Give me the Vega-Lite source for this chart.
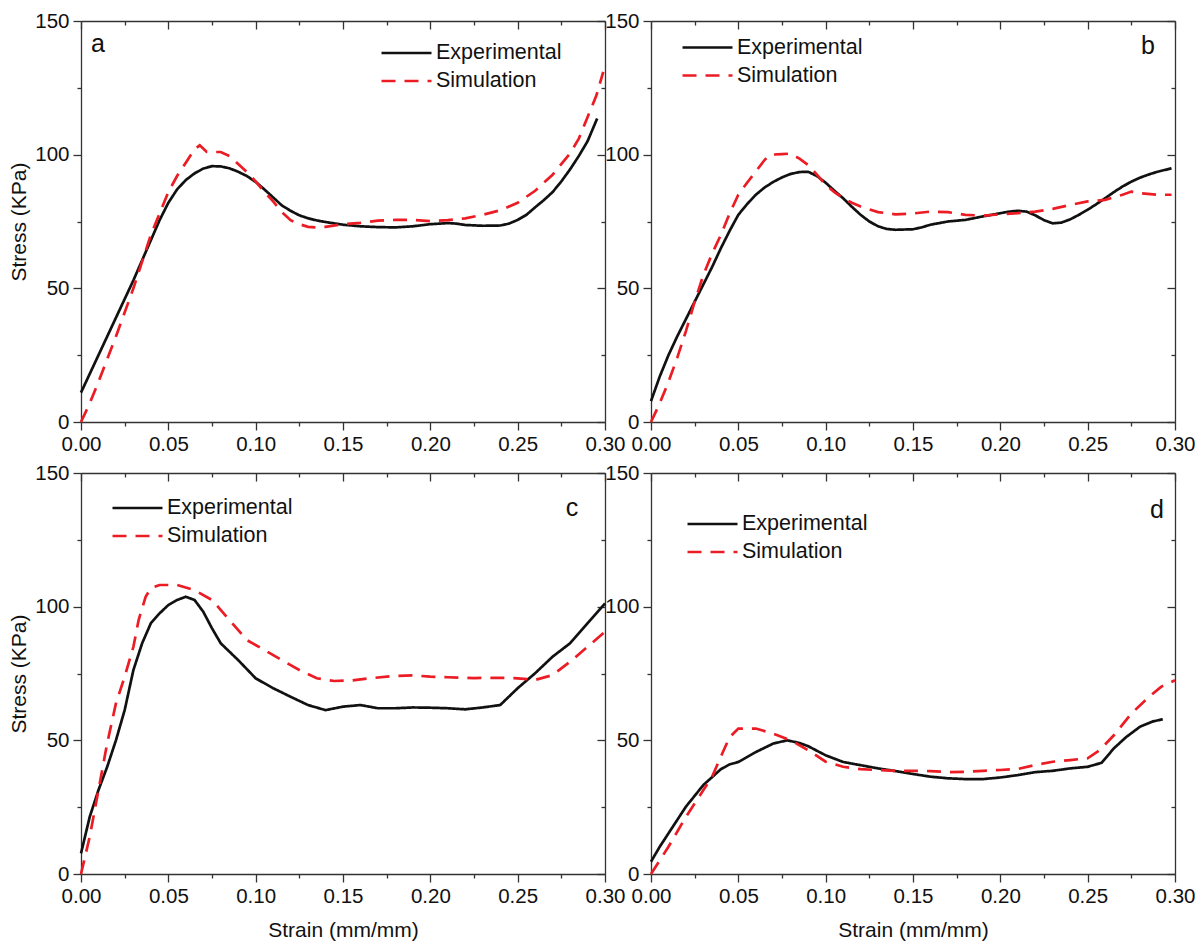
{
  "$schema": "https://vega.github.io/schema/vega-lite/v6.json",
  "background": "white",
  "padding": {"left": 8, "top": 11, "right": 5, "bottom": 5},
  "datasets": {
    "curves": [
      {"panel": "a", "series": "Experimental", "strain": 0, "stress": 11},
      {"panel": "a", "series": "Experimental", "strain": 0.005, "stress": 18},
      {"panel": "a", "series": "Experimental", "strain": 0.01, "stress": 25},
      {"panel": "a", "series": "Experimental", "strain": 0.015, "stress": 32},
      {"panel": "a", "series": "Experimental", "strain": 0.02, "stress": 39},
      {"panel": "a", "series": "Experimental", "strain": 0.025, "stress": 46},
      {"panel": "a", "series": "Experimental", "strain": 0.03, "stress": 53},
      {"panel": "a", "series": "Experimental", "strain": 0.035, "stress": 60.5},
      {"panel": "a", "series": "Experimental", "strain": 0.04, "stress": 68},
      {"panel": "a", "series": "Experimental", "strain": 0.045, "stress": 75.5},
      {"panel": "a", "series": "Experimental", "strain": 0.05, "stress": 82},
      {"panel": "a", "series": "Experimental", "strain": 0.055, "stress": 87},
      {"panel": "a", "series": "Experimental", "strain": 0.06, "stress": 90.5},
      {"panel": "a", "series": "Experimental", "strain": 0.065, "stress": 93},
      {"panel": "a", "series": "Experimental", "strain": 0.07, "stress": 94.8},
      {"panel": "a", "series": "Experimental", "strain": 0.075, "stress": 95.7},
      {"panel": "a", "series": "Experimental", "strain": 0.08, "stress": 95.6},
      {"panel": "a", "series": "Experimental", "strain": 0.085, "stress": 94.9},
      {"panel": "a", "series": "Experimental", "strain": 0.09, "stress": 93.6},
      {"panel": "a", "series": "Experimental", "strain": 0.095, "stress": 92},
      {"panel": "a", "series": "Experimental", "strain": 0.1, "stress": 89.8},
      {"panel": "a", "series": "Experimental", "strain": 0.105, "stress": 87},
      {"panel": "a", "series": "Experimental", "strain": 0.11, "stress": 84},
      {"panel": "a", "series": "Experimental", "strain": 0.115, "stress": 81},
      {"panel": "a", "series": "Experimental", "strain": 0.12, "stress": 79},
      {"panel": "a", "series": "Experimental", "strain": 0.125, "stress": 77.3},
      {"panel": "a", "series": "Experimental", "strain": 0.13, "stress": 76.2},
      {"panel": "a", "series": "Experimental", "strain": 0.135, "stress": 75.4},
      {"panel": "a", "series": "Experimental", "strain": 0.14, "stress": 74.8},
      {"panel": "a", "series": "Experimental", "strain": 0.15, "stress": 73.8},
      {"panel": "a", "series": "Experimental", "strain": 0.16, "stress": 73.2},
      {"panel": "a", "series": "Experimental", "strain": 0.17, "stress": 72.9},
      {"panel": "a", "series": "Experimental", "strain": 0.18, "stress": 72.8},
      {"panel": "a", "series": "Experimental", "strain": 0.19, "stress": 73.2},
      {"panel": "a", "series": "Experimental", "strain": 0.2, "stress": 74},
      {"panel": "a", "series": "Experimental", "strain": 0.21, "stress": 74.4},
      {"panel": "a", "series": "Experimental", "strain": 0.215, "stress": 74.2},
      {"panel": "a", "series": "Experimental", "strain": 0.22, "stress": 73.7},
      {"panel": "a", "series": "Experimental", "strain": 0.23, "stress": 73.4},
      {"panel": "a", "series": "Experimental", "strain": 0.24, "stress": 73.5},
      {"panel": "a", "series": "Experimental", "strain": 0.245, "stress": 74.2},
      {"panel": "a", "series": "Experimental", "strain": 0.25, "stress": 75.6},
      {"panel": "a", "series": "Experimental", "strain": 0.255, "stress": 77.5},
      {"panel": "a", "series": "Experimental", "strain": 0.26, "stress": 80.3},
      {"panel": "a", "series": "Experimental", "strain": 0.265, "stress": 83},
      {"panel": "a", "series": "Experimental", "strain": 0.27, "stress": 86},
      {"panel": "a", "series": "Experimental", "strain": 0.275, "stress": 90},
      {"panel": "a", "series": "Experimental", "strain": 0.28, "stress": 94.5},
      {"panel": "a", "series": "Experimental", "strain": 0.285, "stress": 99.5},
      {"panel": "a", "series": "Experimental", "strain": 0.29, "stress": 105},
      {"panel": "a", "series": "Experimental", "strain": 0.2955, "stress": 113.5},

      {"panel": "a", "series": "Simulation", "strain": 0, "stress": 0},
      {"panel": "a", "series": "Simulation", "strain": 0.005, "stress": 7},
      {"panel": "a", "series": "Simulation", "strain": 0.01, "stress": 15},
      {"panel": "a", "series": "Simulation", "strain": 0.02, "stress": 32},
      {"panel": "a", "series": "Simulation", "strain": 0.03, "stress": 50},
      {"panel": "a", "series": "Simulation", "strain": 0.035, "stress": 60},
      {"panel": "a", "series": "Simulation", "strain": 0.04, "stress": 70},
      {"panel": "a", "series": "Simulation", "strain": 0.045, "stress": 78},
      {"panel": "a", "series": "Simulation", "strain": 0.05, "stress": 86},
      {"panel": "a", "series": "Simulation", "strain": 0.055, "stress": 92},
      {"panel": "a", "series": "Simulation", "strain": 0.06, "stress": 97},
      {"panel": "a", "series": "Simulation", "strain": 0.065, "stress": 102},
      {"panel": "a", "series": "Simulation", "strain": 0.068, "stress": 103.5},
      {"panel": "a", "series": "Simulation", "strain": 0.072, "stress": 101},
      {"panel": "a", "series": "Simulation", "strain": 0.08, "stress": 101},
      {"panel": "a", "series": "Simulation", "strain": 0.085, "stress": 99.5},
      {"panel": "a", "series": "Simulation", "strain": 0.09, "stress": 96.5},
      {"panel": "a", "series": "Simulation", "strain": 0.095, "stress": 93.5},
      {"panel": "a", "series": "Simulation", "strain": 0.1, "stress": 90},
      {"panel": "a", "series": "Simulation", "strain": 0.105, "stress": 86},
      {"panel": "a", "series": "Simulation", "strain": 0.11, "stress": 82.5},
      {"panel": "a", "series": "Simulation", "strain": 0.115, "stress": 78.5},
      {"panel": "a", "series": "Simulation", "strain": 0.12, "stress": 75.5},
      {"panel": "a", "series": "Simulation", "strain": 0.125, "stress": 74},
      {"panel": "a", "series": "Simulation", "strain": 0.13, "stress": 73},
      {"panel": "a", "series": "Simulation", "strain": 0.135, "stress": 72.8},
      {"panel": "a", "series": "Simulation", "strain": 0.14, "stress": 73},
      {"panel": "a", "series": "Simulation", "strain": 0.15, "stress": 74},
      {"panel": "a", "series": "Simulation", "strain": 0.16, "stress": 74.5},
      {"panel": "a", "series": "Simulation", "strain": 0.17, "stress": 75.3},
      {"panel": "a", "series": "Simulation", "strain": 0.18, "stress": 75.6},
      {"panel": "a", "series": "Simulation", "strain": 0.19, "stress": 75.6},
      {"panel": "a", "series": "Simulation", "strain": 0.2, "stress": 75.1},
      {"panel": "a", "series": "Simulation", "strain": 0.21, "stress": 75.5},
      {"panel": "a", "series": "Simulation", "strain": 0.22, "stress": 76.2},
      {"panel": "a", "series": "Simulation", "strain": 0.23, "stress": 77.5},
      {"panel": "a", "series": "Simulation", "strain": 0.24, "stress": 79.2},
      {"panel": "a", "series": "Simulation", "strain": 0.25, "stress": 82},
      {"panel": "a", "series": "Simulation", "strain": 0.26, "stress": 86.5},
      {"panel": "a", "series": "Simulation", "strain": 0.27, "stress": 92.5},
      {"panel": "a", "series": "Simulation", "strain": 0.28, "stress": 100.5},
      {"panel": "a", "series": "Simulation", "strain": 0.285, "stress": 106},
      {"panel": "a", "series": "Simulation", "strain": 0.29, "stress": 114},
      {"panel": "a", "series": "Simulation", "strain": 0.295, "stress": 122},
      {"panel": "a", "series": "Simulation", "strain": 0.299, "stress": 131},

      {"panel": "b", "series": "Experimental", "strain": 0, "stress": 7.8},
      {"panel": "b", "series": "Experimental", "strain": 0.005, "stress": 17},
      {"panel": "b", "series": "Experimental", "strain": 0.01, "stress": 25},
      {"panel": "b", "series": "Experimental", "strain": 0.015, "stress": 32},
      {"panel": "b", "series": "Experimental", "strain": 0.02, "stress": 38.5},
      {"panel": "b", "series": "Experimental", "strain": 0.025, "stress": 45},
      {"panel": "b", "series": "Experimental", "strain": 0.03, "stress": 51.5},
      {"panel": "b", "series": "Experimental", "strain": 0.035, "stress": 58},
      {"panel": "b", "series": "Experimental", "strain": 0.04, "stress": 65},
      {"panel": "b", "series": "Experimental", "strain": 0.045, "stress": 71.5},
      {"panel": "b", "series": "Experimental", "strain": 0.05, "stress": 77.5},
      {"panel": "b", "series": "Experimental", "strain": 0.055, "stress": 81.5},
      {"panel": "b", "series": "Experimental", "strain": 0.06, "stress": 85},
      {"panel": "b", "series": "Experimental", "strain": 0.065, "stress": 87.7},
      {"panel": "b", "series": "Experimental", "strain": 0.07, "stress": 89.8},
      {"panel": "b", "series": "Experimental", "strain": 0.075, "stress": 91.5},
      {"panel": "b", "series": "Experimental", "strain": 0.08, "stress": 92.8},
      {"panel": "b", "series": "Experimental", "strain": 0.085, "stress": 93.5},
      {"panel": "b", "series": "Experimental", "strain": 0.09, "stress": 93.6},
      {"panel": "b", "series": "Experimental", "strain": 0.095, "stress": 92},
      {"panel": "b", "series": "Experimental", "strain": 0.1, "stress": 89.5},
      {"panel": "b", "series": "Experimental", "strain": 0.105, "stress": 86.5},
      {"panel": "b", "series": "Experimental", "strain": 0.11, "stress": 83.7},
      {"panel": "b", "series": "Experimental", "strain": 0.115, "stress": 80.5},
      {"panel": "b", "series": "Experimental", "strain": 0.12, "stress": 77.5},
      {"panel": "b", "series": "Experimental", "strain": 0.125, "stress": 75},
      {"panel": "b", "series": "Experimental", "strain": 0.13, "stress": 73.2},
      {"panel": "b", "series": "Experimental", "strain": 0.135, "stress": 72.2},
      {"panel": "b", "series": "Experimental", "strain": 0.14, "stress": 71.9},
      {"panel": "b", "series": "Experimental", "strain": 0.15, "stress": 72.1},
      {"panel": "b", "series": "Experimental", "strain": 0.155, "stress": 72.8},
      {"panel": "b", "series": "Experimental", "strain": 0.16, "stress": 73.8},
      {"panel": "b", "series": "Experimental", "strain": 0.17, "stress": 75},
      {"panel": "b", "series": "Experimental", "strain": 0.18, "stress": 75.6},
      {"panel": "b", "series": "Experimental", "strain": 0.19, "stress": 76.9},
      {"panel": "b", "series": "Experimental", "strain": 0.2, "stress": 78.1},
      {"panel": "b", "series": "Experimental", "strain": 0.205, "stress": 78.7},
      {"panel": "b", "series": "Experimental", "strain": 0.21, "stress": 79},
      {"panel": "b", "series": "Experimental", "strain": 0.215, "stress": 78.7},
      {"panel": "b", "series": "Experimental", "strain": 0.22, "stress": 77.3},
      {"panel": "b", "series": "Experimental", "strain": 0.225, "stress": 75.5},
      {"panel": "b", "series": "Experimental", "strain": 0.23, "stress": 74.3},
      {"panel": "b", "series": "Experimental", "strain": 0.235, "stress": 74.6},
      {"panel": "b", "series": "Experimental", "strain": 0.24, "stress": 75.8},
      {"panel": "b", "series": "Experimental", "strain": 0.245, "stress": 77.5},
      {"panel": "b", "series": "Experimental", "strain": 0.25, "stress": 79.4},
      {"panel": "b", "series": "Experimental", "strain": 0.255, "stress": 81.5},
      {"panel": "b", "series": "Experimental", "strain": 0.26, "stress": 83.7},
      {"panel": "b", "series": "Experimental", "strain": 0.265, "stress": 86},
      {"panel": "b", "series": "Experimental", "strain": 0.27, "stress": 88.1},
      {"panel": "b", "series": "Experimental", "strain": 0.275, "stress": 89.9},
      {"panel": "b", "series": "Experimental", "strain": 0.28, "stress": 91.4},
      {"panel": "b", "series": "Experimental", "strain": 0.285, "stress": 92.6},
      {"panel": "b", "series": "Experimental", "strain": 0.29, "stress": 93.6},
      {"panel": "b", "series": "Experimental", "strain": 0.298, "stress": 94.9},

      {"panel": "b", "series": "Simulation", "strain": 0, "stress": 0},
      {"panel": "b", "series": "Simulation", "strain": 0.005, "stress": 7},
      {"panel": "b", "series": "Simulation", "strain": 0.01, "stress": 15},
      {"panel": "b", "series": "Simulation", "strain": 0.015, "stress": 24},
      {"panel": "b", "series": "Simulation", "strain": 0.02, "stress": 34},
      {"panel": "b", "series": "Simulation", "strain": 0.025, "stress": 45},
      {"panel": "b", "series": "Simulation", "strain": 0.03, "stress": 55},
      {"panel": "b", "series": "Simulation", "strain": 0.035, "stress": 63},
      {"panel": "b", "series": "Simulation", "strain": 0.04, "stress": 70},
      {"panel": "b", "series": "Simulation", "strain": 0.045, "stress": 78},
      {"panel": "b", "series": "Simulation", "strain": 0.05, "stress": 85},
      {"panel": "b", "series": "Simulation", "strain": 0.055, "stress": 89.5},
      {"panel": "b", "series": "Simulation", "strain": 0.06, "stress": 93.7},
      {"panel": "b", "series": "Simulation", "strain": 0.065, "stress": 98},
      {"panel": "b", "series": "Simulation", "strain": 0.068, "stress": 100},
      {"panel": "b", "series": "Simulation", "strain": 0.075, "stress": 100.2},
      {"panel": "b", "series": "Simulation", "strain": 0.08, "stress": 100.4},
      {"panel": "b", "series": "Simulation", "strain": 0.085, "stress": 98.5},
      {"panel": "b", "series": "Simulation", "strain": 0.09, "stress": 96.1},
      {"panel": "b", "series": "Simulation", "strain": 0.095, "stress": 92.5},
      {"panel": "b", "series": "Simulation", "strain": 0.1, "stress": 88.7},
      {"panel": "b", "series": "Simulation", "strain": 0.105, "stress": 86},
      {"panel": "b", "series": "Simulation", "strain": 0.11, "stress": 83.7},
      {"panel": "b", "series": "Simulation", "strain": 0.115, "stress": 82},
      {"panel": "b", "series": "Simulation", "strain": 0.12, "stress": 80.6},
      {"panel": "b", "series": "Simulation", "strain": 0.13, "stress": 78.5},
      {"panel": "b", "series": "Simulation", "strain": 0.14, "stress": 77.7},
      {"panel": "b", "series": "Simulation", "strain": 0.15, "stress": 78},
      {"panel": "b", "series": "Simulation", "strain": 0.16, "stress": 78.7},
      {"panel": "b", "series": "Simulation", "strain": 0.17, "stress": 78.5},
      {"panel": "b", "series": "Simulation", "strain": 0.18, "stress": 77.5},
      {"panel": "b", "series": "Simulation", "strain": 0.19, "stress": 77.2},
      {"panel": "b", "series": "Simulation", "strain": 0.2, "stress": 77.7},
      {"panel": "b", "series": "Simulation", "strain": 0.21, "stress": 78.1},
      {"panel": "b", "series": "Simulation", "strain": 0.22, "stress": 78.7},
      {"panel": "b", "series": "Simulation", "strain": 0.23, "stress": 79.7},
      {"panel": "b", "series": "Simulation", "strain": 0.24, "stress": 81.2},
      {"panel": "b", "series": "Simulation", "strain": 0.25, "stress": 82.5},
      {"panel": "b", "series": "Simulation", "strain": 0.26, "stress": 83.1},
      {"panel": "b", "series": "Simulation", "strain": 0.27, "stress": 85},
      {"panel": "b", "series": "Simulation", "strain": 0.275, "stress": 86.2},
      {"panel": "b", "series": "Simulation", "strain": 0.28, "stress": 85.6},
      {"panel": "b", "series": "Simulation", "strain": 0.29, "stress": 85},
      {"panel": "b", "series": "Simulation", "strain": 0.298, "stress": 85},

      {"panel": "c", "series": "Experimental", "strain": 0, "stress": 7.7},
      {"panel": "c", "series": "Experimental", "strain": 0.005, "stress": 21.4},
      {"panel": "c", "series": "Experimental", "strain": 0.01, "stress": 31.4},
      {"panel": "c", "series": "Experimental", "strain": 0.015, "stress": 40.1},
      {"panel": "c", "series": "Experimental", "strain": 0.02, "stress": 50},
      {"panel": "c", "series": "Experimental", "strain": 0.025, "stress": 61.3},
      {"panel": "c", "series": "Experimental", "strain": 0.03, "stress": 76.3},
      {"panel": "c", "series": "Experimental", "strain": 0.035, "stress": 86.3},
      {"panel": "c", "series": "Experimental", "strain": 0.04, "stress": 93.8},
      {"panel": "c", "series": "Experimental", "strain": 0.045, "stress": 97.5},
      {"panel": "c", "series": "Experimental", "strain": 0.05, "stress": 100.6},
      {"panel": "c", "series": "Experimental", "strain": 0.055, "stress": 102.5},
      {"panel": "c", "series": "Experimental", "strain": 0.06, "stress": 103.7},
      {"panel": "c", "series": "Experimental", "strain": 0.065, "stress": 102.5},
      {"panel": "c", "series": "Experimental", "strain": 0.07, "stress": 98.1},
      {"panel": "c", "series": "Experimental", "strain": 0.075, "stress": 91.9},
      {"panel": "c", "series": "Experimental", "strain": 0.08, "stress": 86.3},
      {"panel": "c", "series": "Experimental", "strain": 0.09, "stress": 80},
      {"panel": "c", "series": "Experimental", "strain": 0.1, "stress": 73.2},
      {"panel": "c", "series": "Experimental", "strain": 0.11, "stress": 69.5},
      {"panel": "c", "series": "Experimental", "strain": 0.12, "stress": 66.3},
      {"panel": "c", "series": "Experimental", "strain": 0.13, "stress": 63.2},
      {"panel": "c", "series": "Experimental", "strain": 0.14, "stress": 61.3},
      {"panel": "c", "series": "Experimental", "strain": 0.15, "stress": 62.6},
      {"panel": "c", "series": "Experimental", "strain": 0.16, "stress": 63.2},
      {"panel": "c", "series": "Experimental", "strain": 0.17, "stress": 62},
      {"panel": "c", "series": "Experimental", "strain": 0.18, "stress": 62},
      {"panel": "c", "series": "Experimental", "strain": 0.19, "stress": 62.3},
      {"panel": "c", "series": "Experimental", "strain": 0.2, "stress": 62.2},
      {"panel": "c", "series": "Experimental", "strain": 0.21, "stress": 62},
      {"panel": "c", "series": "Experimental", "strain": 0.22, "stress": 61.6},
      {"panel": "c", "series": "Experimental", "strain": 0.23, "stress": 62.3},
      {"panel": "c", "series": "Experimental", "strain": 0.24, "stress": 63.2},
      {"panel": "c", "series": "Experimental", "strain": 0.25, "stress": 69.5},
      {"panel": "c", "series": "Experimental", "strain": 0.26, "stress": 75.1},
      {"panel": "c", "series": "Experimental", "strain": 0.27, "stress": 81.3},
      {"panel": "c", "series": "Experimental", "strain": 0.28, "stress": 86.3},
      {"panel": "c", "series": "Experimental", "strain": 0.29, "stress": 93.8},
      {"panel": "c", "series": "Experimental", "strain": 0.3, "stress": 101.2},

      {"panel": "c", "series": "Simulation", "strain": 0, "stress": 0},
      {"panel": "c", "series": "Simulation", "strain": 0.005, "stress": 14},
      {"panel": "c", "series": "Simulation", "strain": 0.01, "stress": 31.4},
      {"panel": "c", "series": "Simulation", "strain": 0.015, "stress": 48.9},
      {"panel": "c", "series": "Simulation", "strain": 0.02, "stress": 63.8},
      {"panel": "c", "series": "Simulation", "strain": 0.025, "stress": 73.8},
      {"panel": "c", "series": "Simulation", "strain": 0.03, "stress": 85},
      {"panel": "c", "series": "Simulation", "strain": 0.033, "stress": 95},
      {"panel": "c", "series": "Simulation", "strain": 0.037, "stress": 103.7},
      {"panel": "c", "series": "Simulation", "strain": 0.04, "stress": 106.9},
      {"panel": "c", "series": "Simulation", "strain": 0.045, "stress": 108.1},
      {"panel": "c", "series": "Simulation", "strain": 0.055, "stress": 108.1},
      {"panel": "c", "series": "Simulation", "strain": 0.065, "stress": 106.2},
      {"panel": "c", "series": "Simulation", "strain": 0.075, "stress": 102.5},
      {"panel": "c", "series": "Simulation", "strain": 0.085, "stress": 95},
      {"panel": "c", "series": "Simulation", "strain": 0.095, "stress": 87.5},
      {"panel": "c", "series": "Simulation", "strain": 0.105, "stress": 83.8},
      {"panel": "c", "series": "Simulation", "strain": 0.115, "stress": 80},
      {"panel": "c", "series": "Simulation", "strain": 0.125, "stress": 76.3},
      {"panel": "c", "series": "Simulation", "strain": 0.135, "stress": 73.2},
      {"panel": "c", "series": "Simulation", "strain": 0.145, "stress": 72.2},
      {"panel": "c", "series": "Simulation", "strain": 0.155, "stress": 72.4},
      {"panel": "c", "series": "Simulation", "strain": 0.165, "stress": 73.2},
      {"panel": "c", "series": "Simulation", "strain": 0.18, "stress": 74.1},
      {"panel": "c", "series": "Simulation", "strain": 0.19, "stress": 74.3},
      {"panel": "c", "series": "Simulation", "strain": 0.2, "stress": 73.8},
      {"panel": "c", "series": "Simulation", "strain": 0.21, "stress": 73.6},
      {"panel": "c", "series": "Simulation", "strain": 0.225, "stress": 73.3},
      {"panel": "c", "series": "Simulation", "strain": 0.24, "stress": 73.4},
      {"panel": "c", "series": "Simulation", "strain": 0.25, "stress": 73.2},
      {"panel": "c", "series": "Simulation", "strain": 0.26, "stress": 72.6},
      {"panel": "c", "series": "Simulation", "strain": 0.27, "stress": 74.4},
      {"panel": "c", "series": "Simulation", "strain": 0.28, "stress": 79.4},
      {"panel": "c", "series": "Simulation", "strain": 0.29, "stress": 85},
      {"panel": "c", "series": "Simulation", "strain": 0.3, "stress": 90.6},

      {"panel": "d", "series": "Experimental", "strain": 0, "stress": 4.6},
      {"panel": "d", "series": "Experimental", "strain": 0.005, "stress": 10.2},
      {"panel": "d", "series": "Experimental", "strain": 0.01, "stress": 15.2},
      {"panel": "d", "series": "Experimental", "strain": 0.02, "stress": 25.2},
      {"panel": "d", "series": "Experimental", "strain": 0.03, "stress": 33.3},
      {"panel": "d", "series": "Experimental", "strain": 0.04, "stress": 39.2},
      {"panel": "d", "series": "Experimental", "strain": 0.045, "stress": 41},
      {"panel": "d", "series": "Experimental", "strain": 0.05, "stress": 41.9},
      {"panel": "d", "series": "Experimental", "strain": 0.06, "stress": 45.6},
      {"panel": "d", "series": "Experimental", "strain": 0.07, "stress": 48.8},
      {"panel": "d", "series": "Experimental", "strain": 0.078, "stress": 50},
      {"panel": "d", "series": "Experimental", "strain": 0.085, "stress": 49},
      {"panel": "d", "series": "Experimental", "strain": 0.09, "stress": 47.8},
      {"panel": "d", "series": "Experimental", "strain": 0.1, "stress": 44.4},
      {"panel": "d", "series": "Experimental", "strain": 0.11, "stress": 41.9},
      {"panel": "d", "series": "Experimental", "strain": 0.12, "stress": 40.7},
      {"panel": "d", "series": "Experimental", "strain": 0.13, "stress": 39.5},
      {"panel": "d", "series": "Experimental", "strain": 0.14, "stress": 38.5},
      {"panel": "d", "series": "Experimental", "strain": 0.15, "stress": 37.4},
      {"panel": "d", "series": "Experimental", "strain": 0.16, "stress": 36.4},
      {"panel": "d", "series": "Experimental", "strain": 0.17, "stress": 35.8},
      {"panel": "d", "series": "Experimental", "strain": 0.18, "stress": 35.5},
      {"panel": "d", "series": "Experimental", "strain": 0.19, "stress": 35.5},
      {"panel": "d", "series": "Experimental", "strain": 0.2, "stress": 36.1},
      {"panel": "d", "series": "Experimental", "strain": 0.21, "stress": 37},
      {"panel": "d", "series": "Experimental", "strain": 0.22, "stress": 38.1},
      {"panel": "d", "series": "Experimental", "strain": 0.23, "stress": 38.6},
      {"panel": "d", "series": "Experimental", "strain": 0.24, "stress": 39.5},
      {"panel": "d", "series": "Experimental", "strain": 0.25, "stress": 40.1},
      {"panel": "d", "series": "Experimental", "strain": 0.258, "stress": 41.6},
      {"panel": "d", "series": "Experimental", "strain": 0.265, "stress": 47},
      {"panel": "d", "series": "Experimental", "strain": 0.272, "stress": 51.2},
      {"panel": "d", "series": "Experimental", "strain": 0.28, "stress": 55.1},
      {"panel": "d", "series": "Experimental", "strain": 0.287, "stress": 57},
      {"panel": "d", "series": "Experimental", "strain": 0.293, "stress": 57.9},

      {"panel": "d", "series": "Simulation", "strain": 0, "stress": 0},
      {"panel": "d", "series": "Simulation", "strain": 0.01, "stress": 10.2},
      {"panel": "d", "series": "Simulation", "strain": 0.02, "stress": 21.4},
      {"panel": "d", "series": "Simulation", "strain": 0.03, "stress": 31.4},
      {"panel": "d", "series": "Simulation", "strain": 0.035, "stress": 36.4},
      {"panel": "d", "series": "Simulation", "strain": 0.04, "stress": 43.9},
      {"panel": "d", "series": "Simulation", "strain": 0.045, "stress": 51.2},
      {"panel": "d", "series": "Simulation", "strain": 0.05, "stress": 54.4},
      {"panel": "d", "series": "Simulation", "strain": 0.06, "stress": 54.4},
      {"panel": "d", "series": "Simulation", "strain": 0.07, "stress": 52.5},
      {"panel": "d", "series": "Simulation", "strain": 0.08, "stress": 50},
      {"panel": "d", "series": "Simulation", "strain": 0.09, "stress": 46.3},
      {"panel": "d", "series": "Simulation", "strain": 0.1, "stress": 42},
      {"panel": "d", "series": "Simulation", "strain": 0.11, "stress": 40.1},
      {"panel": "d", "series": "Simulation", "strain": 0.12, "stress": 39.2},
      {"panel": "d", "series": "Simulation", "strain": 0.13, "stress": 38.9},
      {"panel": "d", "series": "Simulation", "strain": 0.14, "stress": 38.6},
      {"panel": "d", "series": "Simulation", "strain": 0.15, "stress": 38.6},
      {"panel": "d", "series": "Simulation", "strain": 0.16, "stress": 38.5},
      {"panel": "d", "series": "Simulation", "strain": 0.17, "stress": 38.1},
      {"panel": "d", "series": "Simulation", "strain": 0.18, "stress": 38.2},
      {"panel": "d", "series": "Simulation", "strain": 0.19, "stress": 38.6},
      {"panel": "d", "series": "Simulation", "strain": 0.2, "stress": 38.9},
      {"panel": "d", "series": "Simulation", "strain": 0.21, "stress": 39.3},
      {"panel": "d", "series": "Simulation", "strain": 0.22, "stress": 40.8},
      {"panel": "d", "series": "Simulation", "strain": 0.23, "stress": 42},
      {"panel": "d", "series": "Simulation", "strain": 0.24, "stress": 42.6},
      {"panel": "d", "series": "Simulation", "strain": 0.25, "stress": 43.3},
      {"panel": "d", "series": "Simulation", "strain": 0.257, "stress": 46.4},
      {"panel": "d", "series": "Simulation", "strain": 0.265, "stress": 51.9},
      {"panel": "d", "series": "Simulation", "strain": 0.275, "stress": 60},
      {"panel": "d", "series": "Simulation", "strain": 0.285, "stress": 66.2},
      {"panel": "d", "series": "Simulation", "strain": 0.292, "stress": 70},
      {"panel": "d", "series": "Simulation", "strain": 0.3, "stress": 72.5}
    ]
  },
  "data": {"name": "curves"},
  "columns": 2,
  "bounds": "flush",
  "spacing": {"row": 51, "column": 46},
  "resolve": {
    "scale": {"color": "independent", "strokeDash": "independent"},
    "legend": {"color": "independent", "strokeDash": "independent"}
  },
  "concat": [
    {
      "width": 524,
      "height": 401,
      "layer": [
        {
          "transform": [{"filter": "datum.panel === 'a'"}],
          "mark": {"type": "line", "strokeWidth": 2.7},
          "encoding": {
            "x": {"field": "strain", "type": "quantitative", "scale": {"domain": [0, 0.3], "nice": false},
              "axis": {"orient": "bottom", "title": null, "format": ".2f",
                "values": [0, 0.025, 0.05, 0.075, 0.1, 0.125, 0.15, 0.175, 0.2, 0.225, 0.25, 0.275, 0.3],
                "labelExpr": "round(datum.value * 40) % 2 == 0 ? datum.label : ''",
                "tickSize": {"condition": {"test": "round(datum.value * 40) % 2 == 1", "value": 4}, "value": 8}}},
            "y": {"field": "stress", "type": "quantitative", "scale": {"domain": [0, 150], "nice": false},
              "axis": {"orient": "left", "title": "Stress (KPa)",
                "values": [0, 25, 50, 75, 100, 125, 150],
                "labelExpr": "datum.value % 50 == 0 ? datum.label : ''",
                "tickSize": {"condition": {"test": "datum.value % 50 != 0", "value": 4}, "value": 8}}},
            "color": {"field": "series", "type": "nominal",
              "scale": {"domain": ["Experimental", "Simulation"], "range": ["#111111", "#ec1c24"]},
              "legend": {"orient": "none", "legendX": 299, "legendY": 21}},
            "strokeDash": {"field": "series", "type": "nominal",
              "scale": {"domain": ["Experimental", "Simulation"], "range": [[1, 0], [14, 9]]},
              "legend": {"orient": "none", "legendX": 299, "legendY": 21}}
          }
        },
        {
          "data": {"values": [{}]},
          "mark": {"type": "text", "text": "a", "fontSize": 25, "align": "center", "baseline": "alphabetic", "color": "#111"},
          "encoding": {
            "x": {"datum": 0.0097, "type": "quantitative",
              "axis": {"orient": "top", "title": null, "labels": false,
                "values": [0, 0.025, 0.05, 0.075, 0.1, 0.125, 0.15, 0.175, 0.2, 0.225, 0.25, 0.275, 0.3],
                "tickSize": {"condition": {"test": "round(datum.value * 40) % 2 == 1", "value": -4}, "value": -8}}},
            "y": {"datum": 138.4, "type": "quantitative",
              "axis": {"orient": "right", "title": null, "labels": false,
                "values": [0, 25, 50, 75, 100, 125, 150],
                "tickSize": {"condition": {"test": "datum.value % 50 != 0", "value": -4}, "value": -8}}}
          }
        }
      ]
    },
    {
      "width": 524,
      "height": 401,
      "layer": [
        {
          "transform": [{"filter": "datum.panel === 'b'"}],
          "mark": {"type": "line", "strokeWidth": 2.7},
          "encoding": {
            "x": {"field": "strain", "type": "quantitative", "scale": {"domain": [0, 0.3], "nice": false},
              "axis": {"orient": "bottom", "title": null, "format": ".2f",
                "values": [0, 0.025, 0.05, 0.075, 0.1, 0.125, 0.15, 0.175, 0.2, 0.225, 0.25, 0.275, 0.3],
                "labelExpr": "round(datum.value * 40) % 2 == 0 ? datum.label : ''",
                "tickSize": {"condition": {"test": "round(datum.value * 40) % 2 == 1", "value": 4}, "value": 8}}},
            "y": {"field": "stress", "type": "quantitative", "scale": {"domain": [0, 150], "nice": false},
              "axis": {"orient": "left", "title": null,
                "values": [0, 25, 50, 75, 100, 125, 150],
                "labelExpr": "datum.value % 50 == 0 ? datum.label : ''",
                "tickSize": {"condition": {"test": "datum.value % 50 != 0", "value": 4}, "value": 8}}},
            "color": {"field": "series", "type": "nominal",
              "scale": {"domain": ["Experimental", "Simulation"], "range": ["#111111", "#ec1c24"]},
              "legend": {"orient": "none", "legendX": 30, "legendY": 15.5}},
            "strokeDash": {"field": "series", "type": "nominal",
              "scale": {"domain": ["Experimental", "Simulation"], "range": [[1, 0], [14, 9]]},
              "legend": {"orient": "none", "legendX": 30, "legendY": 15.5}}
          }
        },
        {
          "data": {"values": [{}]},
          "mark": {"type": "text", "text": "b", "fontSize": 25, "align": "center", "baseline": "alphabetic", "color": "#111"},
          "encoding": {
            "x": {"datum": 0.2845, "type": "quantitative",
              "axis": {"orient": "top", "title": null, "labels": false,
                "values": [0, 0.025, 0.05, 0.075, 0.1, 0.125, 0.15, 0.175, 0.2, 0.225, 0.25, 0.275, 0.3],
                "tickSize": {"condition": {"test": "round(datum.value * 40) % 2 == 1", "value": -4}, "value": -8}}},
            "y": {"datum": 137.8, "type": "quantitative",
              "axis": {"orient": "right", "title": null, "labels": false,
                "values": [0, 25, 50, 75, 100, 125, 150],
                "tickSize": {"condition": {"test": "datum.value % 50 != 0", "value": -4}, "value": -8}}}
          }
        }
      ]
    },
    {
      "width": 524,
      "height": 401,
      "layer": [
        {
          "transform": [{"filter": "datum.panel === 'c'"}],
          "mark": {"type": "line", "strokeWidth": 2.7},
          "encoding": {
            "x": {"field": "strain", "type": "quantitative", "scale": {"domain": [0, 0.3], "nice": false},
              "axis": {"orient": "bottom", "title": "Strain (mm/mm)", "format": ".2f",
                "values": [0, 0.025, 0.05, 0.075, 0.1, 0.125, 0.15, 0.175, 0.2, 0.225, 0.25, 0.275, 0.3],
                "labelExpr": "round(datum.value * 40) % 2 == 0 ? datum.label : ''",
                "tickSize": {"condition": {"test": "round(datum.value * 40) % 2 == 1", "value": 4}, "value": 8}}},
            "y": {"field": "stress", "type": "quantitative", "scale": {"domain": [0, 150], "nice": false},
              "axis": {"orient": "left", "title": "Stress (KPa)",
                "values": [0, 25, 50, 75, 100, 125, 150],
                "labelExpr": "datum.value % 50 == 0 ? datum.label : ''",
                "tickSize": {"condition": {"test": "datum.value % 50 != 0", "value": 4}, "value": 8}}},
            "color": {"field": "series", "type": "nominal",
              "scale": {"domain": ["Experimental", "Simulation"], "range": ["#111111", "#ec1c24"]},
              "legend": {"orient": "none", "legendX": 30, "legendY": 24}},
            "strokeDash": {"field": "series", "type": "nominal",
              "scale": {"domain": ["Experimental", "Simulation"], "range": [[1, 0], [14, 9]]},
              "legend": {"orient": "none", "legendX": 30, "legendY": 24}}
          }
        },
        {
          "data": {"values": [{}]},
          "mark": {"type": "text", "text": "c", "fontSize": 25, "align": "center", "baseline": "alphabetic", "color": "#111"},
          "encoding": {
            "x": {"datum": 0.2811, "type": "quantitative",
              "axis": {"orient": "top", "title": null, "labels": false,
                "values": [0, 0.025, 0.05, 0.075, 0.1, 0.125, 0.15, 0.175, 0.2, 0.225, 0.25, 0.275, 0.3],
                "tickSize": {"condition": {"test": "round(datum.value * 40) % 2 == 1", "value": -4}, "value": -8}}},
            "y": {"datum": 133.9, "type": "quantitative",
              "axis": {"orient": "right", "title": null, "labels": false,
                "values": [0, 25, 50, 75, 100, 125, 150],
                "tickSize": {"condition": {"test": "datum.value % 50 != 0", "value": -4}, "value": -8}}}
          }
        }
      ]
    },
    {
      "width": 524,
      "height": 401,
      "layer": [
        {
          "transform": [{"filter": "datum.panel === 'd'"}],
          "mark": {"type": "line", "strokeWidth": 2.7},
          "encoding": {
            "x": {"field": "strain", "type": "quantitative", "scale": {"domain": [0, 0.3], "nice": false},
              "axis": {"orient": "bottom", "title": "Strain (mm/mm)", "format": ".2f",
                "values": [0, 0.025, 0.05, 0.075, 0.1, 0.125, 0.15, 0.175, 0.2, 0.225, 0.25, 0.275, 0.3],
                "labelExpr": "round(datum.value * 40) % 2 == 0 ? datum.label : ''",
                "tickSize": {"condition": {"test": "round(datum.value * 40) % 2 == 1", "value": 4}, "value": 8}}},
            "y": {"field": "stress", "type": "quantitative", "scale": {"domain": [0, 150], "nice": false},
              "axis": {"orient": "left", "title": null,
                "values": [0, 25, 50, 75, 100, 125, 150],
                "labelExpr": "datum.value % 50 == 0 ? datum.label : ''",
                "tickSize": {"condition": {"test": "datum.value % 50 != 0", "value": 4}, "value": 8}}},
            "color": {"field": "series", "type": "nominal",
              "scale": {"domain": ["Experimental", "Simulation"], "range": ["#111111", "#ec1c24"]},
              "legend": {"orient": "none", "legendX": 35, "legendY": 40}},
            "strokeDash": {"field": "series", "type": "nominal",
              "scale": {"domain": ["Experimental", "Simulation"], "range": [[1, 0], [14, 9]]},
              "legend": {"orient": "none", "legendX": 35, "legendY": 40}}
          }
        },
        {
          "data": {"values": [{}]},
          "mark": {"type": "text", "text": "d", "fontSize": 25, "align": "center", "baseline": "alphabetic", "color": "#111"},
          "encoding": {
            "x": {"datum": 0.2897, "type": "quantitative",
              "axis": {"orient": "top", "title": null, "labels": false,
                "values": [0, 0.025, 0.05, 0.075, 0.1, 0.125, 0.15, 0.175, 0.2, 0.225, 0.25, 0.275, 0.3],
                "tickSize": {"condition": {"test": "round(datum.value * 40) % 2 == 1", "value": -4}, "value": -8}}},
            "y": {"datum": 133.3, "type": "quantitative",
              "axis": {"orient": "right", "title": null, "labels": false,
                "values": [0, 25, 50, 75, 100, 125, 150],
                "tickSize": {"condition": {"test": "datum.value % 50 != 0", "value": -4}, "value": -8}}}
          }
        }
      ]
    }
  ],
  "config": {
    "font": "Liberation Sans",
    "view": {"stroke": null},
    "axis": {
      "grid": false,
      "domainColor": "#333333",
      "domainWidth": 1.3,
      "tickColor": "#333333",
      "tickWidth": 1.3,
      "labelFont": "Liberation Sans",
      "labelFontSize": 20.5,
      "labelColor": "#111111",
      "labelPadding": 4,
      "labelFlush": false,
      "labelOverlap": false,
      "titleFont": "Liberation Sans",
      "titleFontSize": 21,
      "titleFontWeight": "normal",
      "titleColor": "#111111"
    },
    "axisX": {"titlePadding": 13},
    "axisY": {"titlePadding": 5},
    "legend": {
      "title": null,
      "direction": "vertical",
      "symbolType": "stroke",
      "symbolSize": 2500,
      "symbolStrokeWidth": 2.7,
      "labelFont": "Liberation Sans",
      "labelFontSize": 21.5,
      "labelColor": "#111111",
      "labelOffset": 3,
      "clipHeight": 22,
      "rowPadding": 6,
      "padding": 0
    }
  }
}
